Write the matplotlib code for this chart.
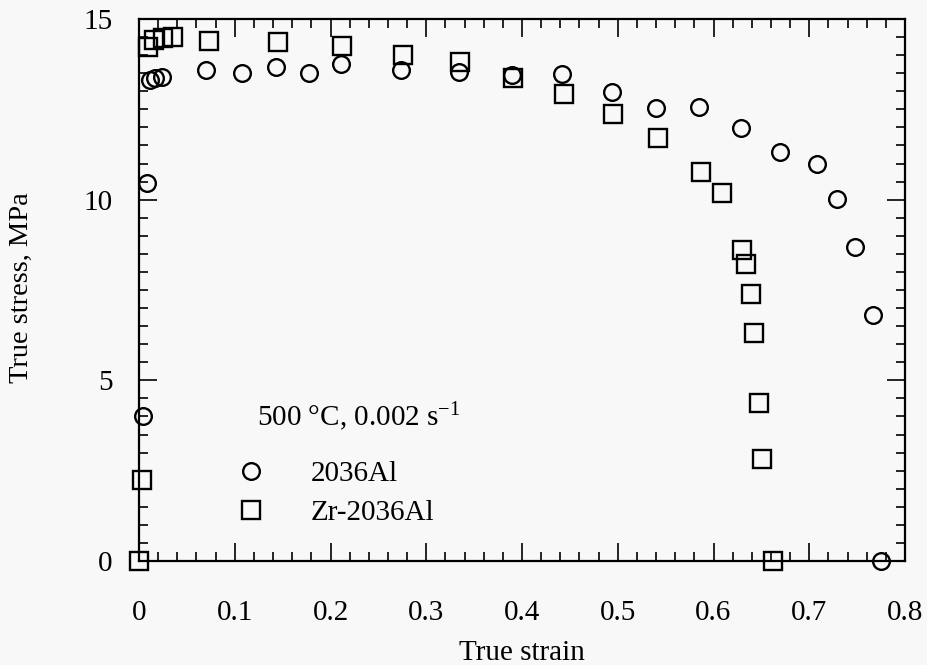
import matplotlib
matplotlib.use("Agg")
import matplotlib.pyplot as plt
from matplotlib.ticker import MultipleLocator

# 2036Al (circles)
al_strain = [0.004, 0.008, 0.0115, 0.017, 0.024, 0.070, 0.108, 0.143, 0.178, 0.211,
             0.274, 0.334, 0.390, 0.442, 0.494, 0.540, 0.585, 0.629, 0.669, 0.708,
             0.729, 0.748, 0.767, 0.775]
al_stress = [4.0, 10.45, 13.31, 13.37, 13.40, 13.59, 13.51, 13.67, 13.51, 13.76,
             13.59, 13.53, 13.45, 13.48, 12.98, 12.54, 12.57, 11.98, 11.32, 10.99,
             10.02, 8.69, 6.81, 0.0]

# Zr-2036Al (squares)
zr_strain = [0.0, 0.003, 0.0094, 0.0157, 0.025, 0.0355, 0.073, 0.145, 0.212, 0.276,
             0.335, 0.391, 0.444, 0.495, 0.542, 0.587, 0.609, 0.630, 0.634, 0.639,
             0.642, 0.647, 0.651, 0.662]
zr_stress = [0.0, 2.24, 14.23, 14.42, 14.48, 14.50, 14.39, 14.36, 14.25, 14.00,
             13.81, 13.37, 12.93, 12.37, 11.71, 10.77, 10.19, 8.61, 8.22, 7.39,
             6.31, 4.37, 2.82, 0.0]

x_ticks = [0, 0.1, 0.2, 0.3, 0.4, 0.5, 0.6, 0.7, 0.8]
x_ticklabels = ["0", "0.1", "0.2", "0.3", "0.4", "0.5", "0.6", "0.7", "0.8"]
y_ticks = [0, 5, 10, 15]
y_ticklabels = ["0", "5", "10", "15"]

plt.rcParams['font.family'] = ['Liberation Serif', 'DejaVu Serif']
plt.rcParams['mathtext.default'] = 'regular'

bg = '#f8f8f8'
fig = plt.figure(figsize=(9.27, 6.65), dpi=100, facecolor=bg)
ax = fig.add_axes([139/927, 1-561/665, (905-139)/927, (561-19)/665])
ax.set_facecolor(bg)

ax.plot(al_strain, al_stress, linestyle='none', marker='o', markersize=12,
        markerfacecolor='none', markeredgecolor='black', markeredgewidth=1.7,
        label='2036Al', clip_on=False)
ax.plot(zr_strain, zr_stress, linestyle='none', marker='s', markersize=12.5,
        markerfacecolor='none', markeredgecolor='black', markeredgewidth=1.7,
        label='Zr-2036Al', clip_on=False)

ax.set_xlim(0, 0.8)
ax.set_ylim(0, 15)
ax.set_xticks(x_ticks)
ax.set_xticklabels(x_ticklabels)
ax.set_yticks(y_ticks)
ax.set_yticklabels(y_ticklabels)
ax.xaxis.set_minor_locator(MultipleLocator(0.02))
ax.yaxis.set_minor_locator(MultipleLocator(0.5))

ax.tick_params(which='both', direction='in', top=True, right=True, width=1.2,
               colors='black')
ax.tick_params(which='major', length=13, labelsize=21)
ax.tick_params(which='minor', length=6.5)
ax.tick_params(axis='x', which='major', pad=28)
ax.tick_params(axis='y', which='major', pad=19)
for s in ax.spines.values():
    s.set_linewidth(1.6)

ax.set_xlabel('True strain', fontsize=21)
ax.xaxis.set_label_coords(0.5, -0.146)
ax.set_ylabel('True stress, MPa', fontsize=20.5)
ax.yaxis.set_label_coords(-0.137, 0.505)

ax.text(0.154, 0.266, '500 °C, 0.002 s$^{-1}$', transform=ax.transAxes,
        fontsize=21, ha='left', va='center')

leg = ax.legend(loc='upper left', bbox_to_anchor=(0.108, 0.185), frameon=False,
                fontsize=21, numpoints=1, handlelength=2.0, handletextpad=1.05,
                labelspacing=0.44, borderpad=0, borderaxespad=0)

fig.savefig('out.png', dpi=100, facecolor=bg)
